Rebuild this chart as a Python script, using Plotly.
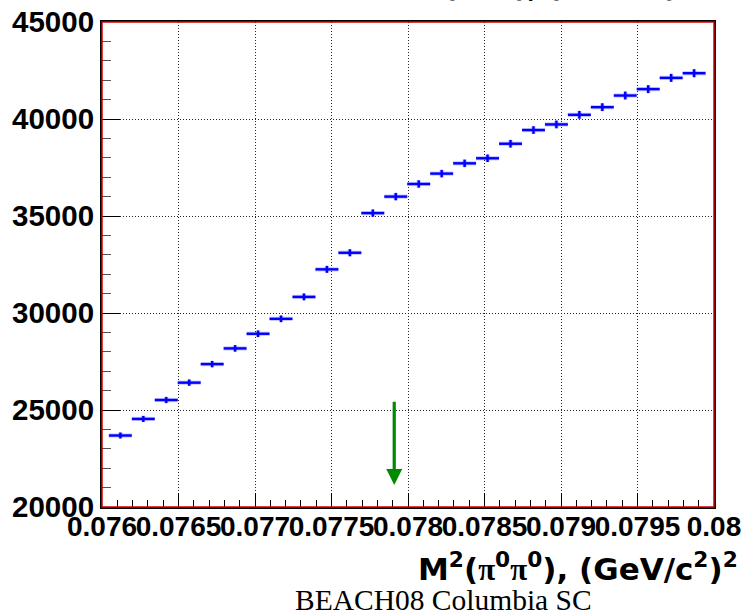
import plotly.graph_objects as go

# Histogram of M^2(pi0 pi0): bin centres, contents and statistical errors
bin_centers = [0.07612, 0.07627, 0.07642, 0.07657, 0.07672, 0.07687, 0.07702,
               0.07717, 0.07732, 0.07747, 0.07762, 0.07777, 0.07792, 0.07807,
               0.07822, 0.07837, 0.07852, 0.07867, 0.07882, 0.07897, 0.07912,
               0.07927, 0.07942, 0.07957, 0.07972, 0.07987]
counts = [23685, 24540, 25515, 26410, 27365, 28175, 28930, 29700, 30830, 32250,
          33105, 35150, 36000, 36650, 37185, 37715, 37975, 38725, 39430, 39720,
          40215, 40610, 41210, 41540, 42120, 42360]
count_errors = [154, 157, 160, 163, 165, 168, 170, 172, 176, 180, 182, 187, 190,
                191, 193, 194, 195, 197, 199, 199, 201, 202, 203, 204, 205, 206]
half_bin_width = 0.000075

x_tick_values = [0.076, 0.0765, 0.077, 0.0775, 0.078, 0.0785, 0.079, 0.0795, 0.08]
x_tick_labels = ["0.076", "0.0765", "0.077", "0.0775", "0.078", "0.0785",
                 "0.079", "0.0795", "0.08"]
y_tick_values = [20000, 25000, 30000, 35000, 40000, 45000]
y_tick_labels = ["20000", "25000", "30000", "35000", "40000", "45000"]

# Green arrow marking the threshold region
arrow_x = 0.07791
arrow_top = 25500
arrow_tip = 21130

X_RANGE = [0.076, 0.08]
Y_RANGE = [20000, 45000]

fig = go.Figure()

# soft halo under the error bars
fig.add_trace(go.Scatter(
    x=bin_centers, y=counts, mode="markers",
    marker=dict(size=1, color="rgba(0,0,255,0)"),
    error_x=dict(type="constant", value=half_bin_width, width=0,
                 thickness=4.2, color="rgba(90,90,255,0.35)"),
    error_y=dict(type="data", array=count_errors, width=0,
                 thickness=4.2, color="rgba(90,90,255,0.35)"),
    hoverinfo="skip", showlegend=False,
))
fig.add_trace(go.Scatter(
    x=bin_centers, y=counts, mode="markers",
    marker=dict(size=1, color="rgba(0,0,255,0)"),
    error_x=dict(type="constant", value=half_bin_width, width=0,
                 thickness=2.4, color="#0000ff"),
    error_y=dict(type="data", array=count_errors, width=0,
                 thickness=2.4, color="#0000ff"),
    showlegend=False,
))

axis_font = dict(family="Liberation Sans, Arial, sans-serif", color="black",
                 weight="bold")

fig.update_xaxes(
    range=X_RANGE, tickmode="array", tickvals=x_tick_values, ticktext=x_tick_labels,
    tickangle=0, tickfont=dict(size=28, **axis_font),
    ticks="inside", ticklen=14, tickwidth=1, tickcolor="black",
    minor=dict(dtick=0.0001, ticks="inside", ticklen=7, tickwidth=1,
               tickcolor="black", showgrid=False),
    showgrid=True, gridcolor="#222", gridwidth=1, griddash="1px,2px",
    showline=True, linecolor="black", linewidth=2, mirror=True,
    zeroline=False, ticklabelstandoff=-7, automargin=False,
    ticklabeloverflow="allow",
)
fig.update_yaxes(
    range=Y_RANGE, tickmode="array", tickvals=y_tick_values, ticktext=y_tick_labels,
    tickfont=dict(size=29.5, **axis_font),
    ticks="inside", ticklen=18, tickwidth=1, tickcolor="black",
    minor=dict(dtick=1000, ticks="inside", ticklen=9, tickwidth=1,
               tickcolor="#555", showgrid=False),
    showgrid=True, gridcolor="#222", gridwidth=1, griddash="1px,2px",
    showline=True, linecolor="black", linewidth=2, mirror=True,
    zeroline=False, ticklabelstandoff=0, automargin=False,
    ticklabeloverflow="allow",
)

# red frame drawn over the black axis lines
fig.add_shape(type="rect", xref="paper", yref="paper", x0=0, y0=0, x1=1, y1=1,
              line=dict(color="#d00000", width=1.5), layer="above")

fig.add_annotation(
    x=arrow_x, y=arrow_tip, ax=arrow_x, ay=arrow_top,
    xref="x", yref="y", axref="x", ayref="y",
    showarrow=True, arrowhead=2, arrowwidth=3.2, arrowsize=1.0,
    arrowcolor="#008a00", text="",
)

title_font = dict(family="DejaVu Sans, Verdana, sans-serif", size=31,
                  color="black", weight="bold")
pi = "<span style='font-family:Liberation Serif'>π</span>"

fig.add_annotation(
    text=f"M<sup>2</sup>({pi}<sup>0</sup>{pi}<sup>0</sup>), (GeV/c<sup>2</sup>)<sup>2</sup>",
    xref="paper", yref="paper", x=1.042, y=-0.169, xanchor="right", yanchor="bottom",
    showarrow=False, font=title_font,
)
fig.add_annotation(
    text=f"({pi}<sup>0</sup>{pi}<sup>0</sup>), (GeV/c<sup>2</sup>)",
    xref="paper", yref="paper", x=0.555, y=1.032, xanchor="left", yanchor="bottom",
    showarrow=False, font=dict(family="DejaVu Sans, Verdana, sans-serif", size=28,
                               color="black", weight="bold"),
)
fig.add_annotation(
    text="BEACH08 Columbia SC",
    xref="paper", yref="paper", x=0.312, y=-0.155, xanchor="left", yanchor="top",
    showarrow=False,
    font=dict(family="Liberation Serif, Times New Roman, serif", size=29.5, color="black"),
)

fig.update_layout(
    width=741, height=615,
    margin=dict(l=102, r=27, t=22, b=108, autoexpand=False),
    paper_bgcolor="white", plot_bgcolor="white",
    showlegend=False,
)

fig.write_html("out.html")
